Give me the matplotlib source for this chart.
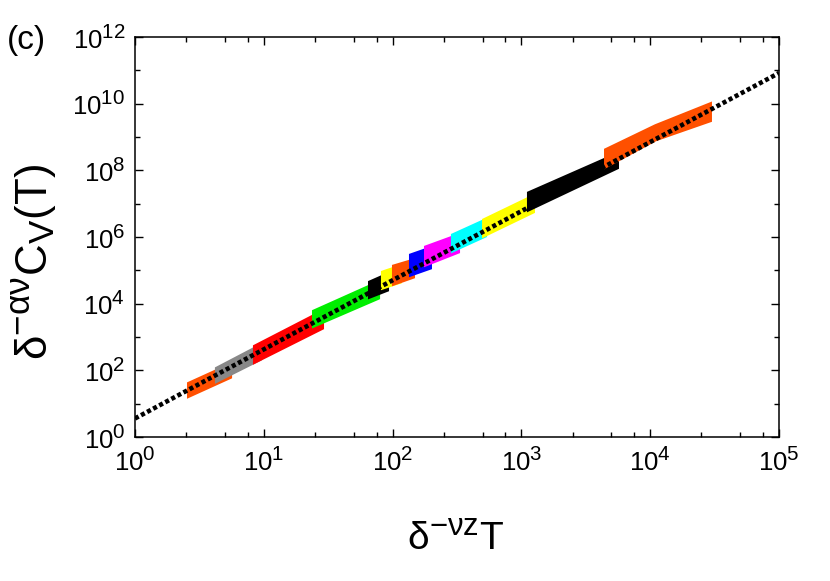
import numpy as np
import matplotlib
matplotlib.use("Agg")
import matplotlib.pyplot as plt
import matplotlib._mathtext as _mt
from matplotlib.ticker import FixedLocator, FuncFormatter, NullFormatter

_mt.SHRINK_FACTOR = 0.8  # larger super/subscripts, like the reference

plt.rcParams['font.family'] = ['Liberation Sans', 'DejaVu Sans']
plt.rcParams['mathtext.fontset'] = 'custom'
plt.rcParams['mathtext.rm'] = 'Liberation Sans'
plt.rcParams['mathtext.it'] = 'Liberation Sans'
plt.rcParams['mathtext.bf'] = 'Liberation Sans:bold'

# ---- data: each collapsed data set as a band ----
band_colors = ['#ff5000', '#888888', '#ff0000', '#00ee00', '#000000', '#ffff00',
               '#ff5000', '#0000ff', '#ff00ff', '#00ffff', '#ffff00', '#000000', '#ff5000']
band_x = [
    [2.58, 5.47],
    [4.25, 9.34],
    [8.39, 28.3],
    [24.1, 77.1],
    [65.6, 90.5],
    [82.7, 114],
    [100.7, 144],
    [136.5, 195],
    [178.5, 322],
    [289, 522],
    [504, 1230],
    [1125, 5520],
    [4460, 10900, 29100],
]
band_ylow = [
    [17.1, 63.8],
    [48.3, 222],
    [180, 1897],
    [2180, 15140],
    [16200, 26300],
    [30300, 45900],
    [39900, 64800],
    [74500, 121000],
    [149000, 366000],
    [393000, 1.11e6],
    [1.11e6, 5.85e6],
    [6.71e6, 1.23e8],
    [1.32e8, 8.5e8, 3.19e9],
]
band_yhigh = [
    [42, 157],
    [119, 585],
    [546, 6150],
    [6150, 45900],
    [45900, 79400],
    [91700, 139000],
    [139000, 210000],
    [298000, 483000],
    [518000, 1.19e6],
    [1.19e6, 3.36e6],
    [3.36e6, 1.77e7],
    [2.18e7, 3.25e8],
    [4.28e8, 2.26e9, 1.03e10],
]

# power-law guide line  y = A * x^B
fit_A = 3.6
fit_B = 2.073
fit_x = [1.0, 1.0e5]

x_major = [1e0, 1e1, 1e2, 1e3, 1e4, 1e5]
x_minor = [m * 10.0 ** k for k in range(0, 5) for m in (2.5, 5.0, 7.5)]
y_major = [10.0 ** k for k in range(0, 13, 2)]
y_minor = [10.0 ** k for k in range(1, 12, 2)]

fig = plt.figure(figsize=(8.30, 5.81), dpi=100)
ax = fig.add_axes([135 / 830, 1 - 437 / 581, (779 - 135) / 830, (437 - 37) / 581])

for c, xs, lo, hi in zip(band_colors, band_x, band_ylow, band_yhigh):
    ax.fill_between(xs, lo, hi, color=c, linewidth=2.2, edgecolor=c,
                    joinstyle='miter')

fx = np.array(fit_x)
ax.plot(fx, fit_A * fx ** fit_B, color='black', lw=3.3,
        linestyle=(0, (0.9, 0.6)), dash_capstyle='butt', zorder=5)

ax.set_xscale('log')
ax.set_yscale('log')
ax.set_xlim(1, 1e5)
ax.set_ylim(1, 1e12)

ax.xaxis.set_major_locator(FixedLocator(x_major))
ax.xaxis.set_minor_locator(FixedLocator(x_minor))
ax.yaxis.set_major_locator(FixedLocator(y_major))
ax.yaxis.set_minor_locator(FixedLocator(y_minor))
fmt = FuncFormatter(lambda v, p: r'$\mathregular{10^{%d}}$' % int(round(np.log10(v))))
ax.xaxis.set_major_formatter(fmt)
ax.yaxis.set_major_formatter(fmt)
ax.xaxis.set_minor_formatter(NullFormatter())
ax.yaxis.set_minor_formatter(NullFormatter())

ax.tick_params(which='both', direction='in', top=True, right=True, width=1.0,
               labelsize=18.5)
ax.tick_params(which='major', length=6)
ax.tick_params(which='minor', length=3.5)
ax.tick_params(axis='x', which='major', pad=8)
ax.tick_params(axis='y', which='major', pad=7)
for s in ax.spines.values():
    s.set_linewidth(1.1)

fig.text(456 / 830, 1 - 540 / 581, r'$\mathregular{\delta^{-\nu z}T}$', fontsize=28,
         ha='center', va='center')
fig.text(33 / 830, 1 - 262 / 581, r'$\mathregular{\delta^{-\alpha\nu}C_V(T)}$', fontsize=31.5,
         ha='center', va='center', rotation=90)
fig.text(7 / 830, 1 - 40 / 581, '(c)', fontsize=24, va='center', ha='left')

fig.savefig('out.png', dpi=100)
